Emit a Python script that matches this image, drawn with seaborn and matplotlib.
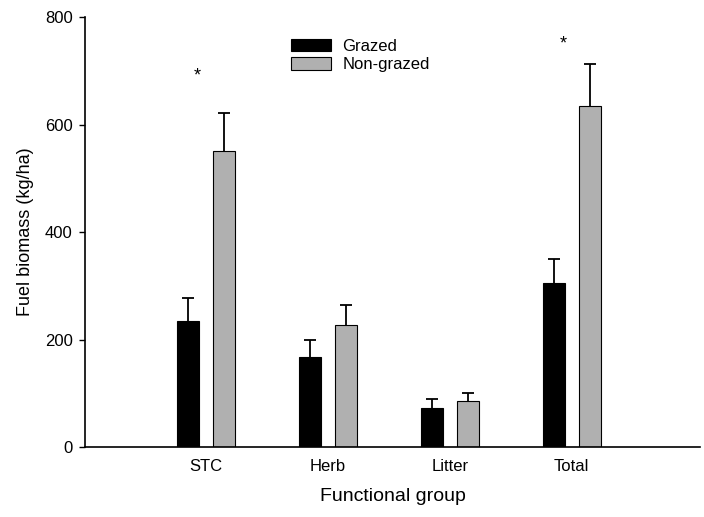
import matplotlib
matplotlib.use("Agg")
import matplotlib.pyplot as plt
import seaborn as sns
import pandas as pd
import numpy as np

groups = ["STC", "Herb", "Litter", "Total"]
treatments = ["Grazed", "Non-grazed"]
grazed = [234, 168, 72, 306]
nongrazed = [551, 227, 85, 635]
grazed_se = [44, 31, 18, 44]
nongrazed_se = [70, 38, 16, 78]
star_groups = ["STC", "Total"]
star_heights = [690, 749]

df = pd.DataFrame({
    "group": groups * 2,
    "treatment": [treatments[0]] * 4 + [treatments[1]] * 4,
    "value": grazed + nongrazed,
    "se": grazed_se + nongrazed_se,
})

sns.set_style("ticks")
plt.rcParams["font.family"] = ["Liberation Sans", "DejaVu Sans"]
for k in ["text.color", "axes.labelcolor", "xtick.color", "ytick.color", "axes.edgecolor"]:
    plt.rcParams[k] = "black"

fig = plt.figure(figsize=(7.04, 5.17), dpi=100)
ax = fig.add_axes([0.121, 0.1354, 0.873, 0.8316])

palette = {"Grazed": "#000000", "Non-grazed": "#b0b0b0"}
sns.barplot(data=df, x="group", y="value", hue="treatment", order=groups,
            hue_order=treatments, palette=palette, width=0.59, gap=0.39,
            edgecolor="black", linewidth=0.8, errorbar=None, ax=ax, saturation=1)

cap_half = 0.05
for cont, t in zip(ax.containers, treatments):
    sub = df[df.treatment == t].set_index("group").loc[groups]
    xs = np.array([p.get_x() + p.get_width() / 2 for p in cont.patches])
    v = sub["value"].values
    top = v + sub["se"].values
    ax.vlines(xs, v, top, colors="black", linewidth=1.3, zorder=1)
    ax.hlines(top, xs - cap_half, xs + cap_half, colors="black", linewidth=1.3, zorder=1)

for g, h in zip(star_groups, star_heights):
    i = groups.index(g)
    ax.text(i - 0.07, h, "*", ha="center", va="center", fontsize=13)

ax.set_xlim(-0.99, 4.05)
ax.set_ylim(0, 800)
ax.set_yticks([0, 200, 400, 600, 800])
ax.tick_params(axis="y", direction="out", length=4, width=1, labelsize=12, pad=5)
ax.tick_params(axis="x", length=0, labelsize=12, pad=9)
ax.set_xlabel("Functional group", fontsize=14, labelpad=10)
ax.set_ylabel("Fuel biomass (kg/ha)", fontsize=13, labelpad=8)
sns.despine(ax=ax)
for s in ["left", "bottom"]:
    ax.spines[s].set_linewidth(1.2)

leg = ax.legend(loc="upper left", bbox_to_anchor=(0.31, 0.985), frameon=False,
                fontsize=12, handlelength=2.4, handleheight=0.8, labelspacing=0.2,
                handletextpad=0.7, title=None)
for h in leg.legend_handles:
    h.set_edgecolor("black")
    h.set_linewidth(0.8)

fig.savefig("out.png", dpi=100)
